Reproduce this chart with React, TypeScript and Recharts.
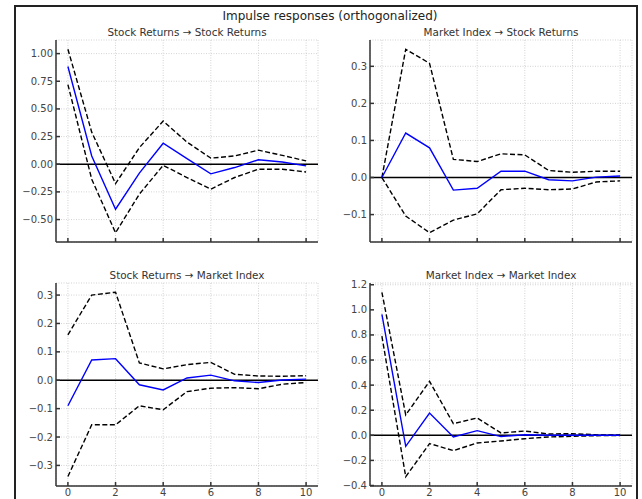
import React from 'react';
import { LineChart, Line, XAxis, YAxis, CartesianGrid, ReferenceLine } from 'recharts';

const steps = [0, 1, 2, 3, 4, 5, 6, 7, 8, 9, 10];

// Stock Returns -> Stock Returns
const srSrIrf = [0.883, 0.075, -0.407, -0.08, 0.19, 0.05, -0.087, -0.03, 0.04, 0.02, -0.015];
const srSrUpper = [1.04, 0.29, -0.175, 0.15, 0.39, 0.2, 0.055, 0.075, 0.127, 0.08, 0.03];
const srSrLower = [0.72, -0.135, -0.62, -0.27, -0.01, -0.12, -0.225, -0.12, -0.045, -0.045, -0.07];

// Market Index -> Stock Returns
const miSrIrf = [0, 0.12, 0.08, -0.034, -0.029, 0.017, 0.017, -0.006, -0.009, 0.001, 0.004];
const miSrUpper = [0, 0.346, 0.308, 0.049, 0.043, 0.064, 0.061, 0.019, 0.014, 0.017, 0.017];
const miSrLower = [0, -0.104, -0.149, -0.115, -0.098, -0.033, -0.029, -0.033, -0.031, -0.012, -0.009];

// Stock Returns -> Market Index
const srMiIrf = [-0.09, 0.0715, 0.076, -0.016, -0.034, 0.008, 0.018, -0.002, -0.008, 0.001, 0.004];
const srMiUpper = [0.16, 0.3, 0.31, 0.061, 0.04, 0.055, 0.063, 0.021, 0.015, 0.014, 0.016];
const srMiLower = [-0.339, -0.157, -0.157, -0.09, -0.104, -0.04, -0.028, -0.026, -0.03, -0.014, -0.008];

// Market Index -> Market Index
const miMiIrf = [0.963, -0.088, 0.178, -0.013, 0.037, -0.01, 0.005, 0.001, 0, 0, 0];
const miMiUpper = [1.14, 0.162, 0.43, 0.093, 0.138, 0.019, 0.034, 0.011, 0.013, 0.004, 0.002];
const miMiLower = [0.79, -0.33, -0.066, -0.122, -0.061, -0.045, -0.027, -0.013, -0.008, -0.003, -0.002];

const xTicks = [0, 2, 4, 6, 8, 10];
const srSrTicks = [-0.5, -0.25, 0, 0.25, 0.5, 0.75, 1.0];
const miSrTicks = [-0.1, 0, 0.1, 0.2, 0.3];
const srMiTicks = [-0.3, -0.2, -0.1, 0, 0.1, 0.2, 0.3];
const miMiTicks = [-0.4, -0.2, 0, 0.2, 0.4, 0.6, 0.8, 1.0, 1.2];

const FONT = '"DejaVu Sans", sans-serif';
const AXIS_W = 50;

const fmt = (digits: number) => (v: number) => {
  const s = Math.abs(v).toFixed(digits);
  return v < 0 ? '\u2212' + s : s;
};

type PanelProps = {
  title: string;
  irf: number[];
  upper: number[];
  lower: number[];
  yTicks: number[];
  yDomain: [number, number];
  digits: number;
  showXLabels: boolean;
  left: number;
  top: number;
  plotW: number;
  plotH: number;
};

function Panel({ title, irf, upper, lower, yTicks, yDomain, digits, showXLabels, left, top, plotW, plotH }: PanelProps) {
  const data = steps.map((s, i) => ({ step: s, irf: irf[i], upper: upper[i], lower: lower[i] }));
  return (
    <>
      <div
        style={{
          position: 'absolute',
          left,
          top: top - 14,
          width: plotW,
          textAlign: 'center',
          fontFamily: FONT,
          fontSize: 10.4,
          color: '#333',
          lineHeight: '12px',
        }}
      >
        {title}
      </div>
      <div style={{ position: 'absolute', left: left - AXIS_W, top: top - 5 }}>
        <LineChart
          width={plotW + AXIS_W + 5}
          height={plotH + 5 + 20}
          data={data}
          margin={{ top: 5, right: 5, left: 0, bottom: 0 }}
        >
          <CartesianGrid stroke="#c8c8c8" strokeDasharray="1 1.5" strokeWidth={0.8} />
          <XAxis
            dataKey="step"
            type="number"
            domain={[-0.5, 10.5]}
            ticks={xTicks}
            height={20}
            tickSize={-4}
            tickMargin={7}
            tickFormatter={(v: number) => (showXLabels ? String(v) : '')}
            stroke="#333"
            strokeWidth={1.5}
            tick={{ fill: '#444', fontSize: 10, fontFamily: FONT }}
          />
          <YAxis
            type="number"
            domain={yDomain}
            ticks={yTicks}
            width={AXIS_W}
            tickSize={-4}
            tickMargin={7}
            allowDataOverflow
            tickFormatter={fmt(digits)}
            stroke="#333"
            strokeWidth={1.5}
            tick={{ fill: '#444', fontSize: 10, fontFamily: FONT }}
          />
          <ReferenceLine y={0} stroke="#000" strokeWidth={1.6} />
          <Line dataKey="upper" stroke="#000" strokeWidth={1.4} strokeDasharray="5 2.5" dot={false} isAnimationActive={false} />
          <Line dataKey="lower" stroke="#000" strokeWidth={1.4} strokeDasharray="5 2.5" dot={false} isAnimationActive={false} />
          <Line dataKey="irf" stroke="#0000ff" strokeWidth={1.4} dot={false} isAnimationActive={false} />
        </LineChart>
      </div>
    </>
  );
}

export default function App() {
  return (
    <div style={{ position: 'absolute', left: 0, top: 0, width: 642, height: 499, background: '#fff', overflow: 'hidden' }}>
      <div
        style={{
          position: 'absolute',
          left: 14,
          top: 5,
          width: 620,
          height: 510,
          border: '2px solid #222',
        }}
      />
      <div
        style={{
          position: 'absolute',
          left: 0,
          top: 9,
          width: 660,
          textAlign: 'center',
          fontFamily: FONT,
          fontSize: 12,
          color: '#222',
          lineHeight: '14px',
        }}
      >
        Impulse responses (orthogonalized)
      </div>
      <Panel
        title="Stock Returns → Stock Returns"
        irf={srSrIrf}
        upper={srSrUpper}
        lower={srSrLower}
        yTicks={srSrTicks}
        yDomain={[-0.703, 1.123]}
        digits={2}
        showXLabels={false}
        left={56}
        top={40}
        plotW={262}
        plotH={202}
      />
      <Panel
        title="Market Index → Stock Returns"
        irf={miSrIrf}
        upper={miSrUpper}
        lower={miSrLower}
        yTicks={miSrTicks}
        yDomain={[-0.174, 0.371]}
        digits={1}
        showXLabels={false}
        left={370}
        top={40}
        plotW={262}
        plotH={202}
      />
      <Panel
        title="Stock Returns → Market Index"
        irf={srMiIrf}
        upper={srMiUpper}
        lower={srMiLower}
        yTicks={srMiTicks}
        yDomain={[-0.3725, 0.3425]}
        digits={1}
        showXLabels={true}
        left={56}
        top={283}
        plotW={262}
        plotH={203}
      />
      <Panel
        title="Market Index → Market Index"
        irf={miMiIrf}
        upper={miMiUpper}
        lower={miMiLower}
        yTicks={miMiTicks}
        yDomain={[-0.404, 1.214]}
        digits={1}
        showXLabels={true}
        left={370}
        top={283}
        plotW={262}
        plotH={203}
      />
    </div>
  );
}
